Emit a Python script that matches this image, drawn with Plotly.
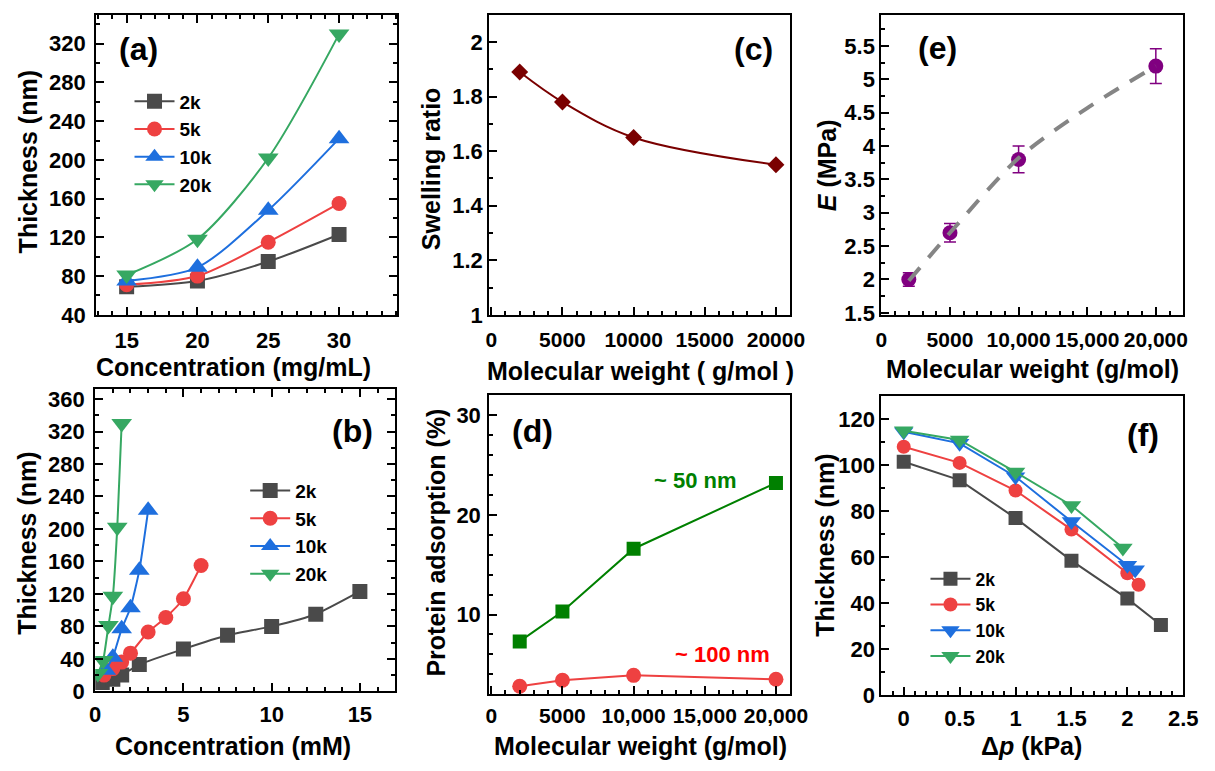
import plotly.graph_objects as go

W, H = 1215, 771

# ---------------- data ----------------
series_names = ["2k", "5k", "10k", "20k"]
series_colors = ["#4A4A4A", "#EE4141", "#1E6FDE", "#36A862"]
series_symbols = ["square", "circle", "triangle-up", "triangle-down"]

# (a) thickness vs concentration (mg/mL)
conc_mgml = [15, 20, 25, 30]
thick_a = {
    "2k": [69, 75, 95, 123],
    "5k": [71, 80, 115, 155],
    "10k": [75, 89, 148, 222],
    "20k": [81, 118, 202, 330],
}

# (b) thickness vs concentration (mM)
conc_mm = {
    "2k": [0.4, 1.0, 1.5, 2.5, 5.0, 7.5, 10.0, 12.5, 15.0],
    "5k": [0.5, 1.0, 1.5, 2.0, 3.0, 4.0, 5.0, 6.0],
    "10k": [0.6, 1.0, 1.5, 2.0, 2.5, 3.0],
    "20k": [0.15, 0.45, 0.75, 1.0, 1.25, 1.5],
}
thick_b = {
    "2k": [11, 15, 20, 33, 52, 69, 80, 95, 123],
    "5k": [20, 28, 36, 47, 73, 91, 114, 155],
    "10k": [26, 42, 77, 103, 149, 223],
    "20k": [22, 38, 81, 117, 202, 330],
}

# (c) swelling ratio vs molecular weight
mw = [2000, 5000, 10000, 20000]
swelling = [1.89, 1.78, 1.65, 1.55]

# (e) modulus vs molecular weight, with fitted trend
modulus = [2.0, 2.7, 3.8, 5.2]
modulus_err = [0.1, 0.14, 0.2, 0.26]
fit_mw = [2000, 5000, 10000, 15000, 20000]
fit_modulus = [1.98, 2.70, 3.82, 4.57, 5.20]

# (d) protein adsorption vs molecular weight
ads_50nm = [7.3, 10.3, 16.6, 23.2]
ads_100nm = [2.8, 3.4, 3.9, 3.5]

# (f) thickness vs pressure difference
dp = {
    "2k": [0, 0.5, 1.0, 1.5, 2.0, 2.3],
    "5k": [0, 0.5, 1.0, 1.5, 2.0, 2.1],
    "10k": [0, 0.5, 1.0, 1.5, 2.0, 2.07],
    "20k": [0, 0.5, 1.0, 1.5, 1.96],
}
thick_f = {
    "2k": [101.5, 93.5, 77, 58.5, 42, 30.5],
    "5k": [108, 101, 89, 72, 53, 48],
    "10k": [114.5, 109.5, 95, 75.5, 56.5, 54.5],
    "20k": [115, 111, 97, 82.5, 64],
}

mw_ticks = [0, 5000, 10000, 15000, 20000]
mw_ticktext_plain = ["0", "5000", "10000", "15000", "20000"]
mw_ticktext_comma = ["0", "5000", "10,000", "15,000", "20,000"]

FONT = "Liberation Sans, Arial, sans-serif"

# ---------------- helpers ----------------
def px_x(p):
    return p / W


def px_y(p):
    return 1 - p / H


def marker_size(symbol, base):
    # triangles render smaller than squares/circles at the same size
    return base + 3 if symbol.startswith("triangle") else base


def axis(dom, rng, dtick, minor, anchor, mirror=True, tickvals=None,
         ticktext=None, standoff=None, is_x=False, fsize=22):
    d = dict(
        domain=dom, range=rng, anchor=anchor,
        showline=True, linecolor="black", linewidth=2, mirror=mirror,
        ticks="inside", ticklen=8, tickwidth=2, tickcolor="black",
        dtick=dtick, tick0=0,
        minor=dict(dtick=minor, tick0=0, ticks="inside", ticklen=4,
                   tickwidth=1.5, tickcolor="black", showgrid=False),
        showgrid=False, zeroline=False,
        tickfont=dict(size=fsize, color="black", weight="bold", family=FONT),
    )
    if is_x:
        d["tickangle"] = 0
    if standoff is not None:
        d["ticklabelstandoff"] = standoff
    if tickvals is not None:
        d["tickmode"] = "array"
        d["tickvals"] = tickvals
        d["ticktext"] = ticktext
    return d


fig = go.Figure()

# (a)
for i, name in enumerate(series_names):
    sym = series_symbols[i]
    fig.add_trace(go.Scatter(
        x=conc_mgml, y=thick_a[name], name=name, mode="lines+markers",
        line=dict(color=series_colors[i], width=2, shape="spline", smoothing=0.8),
        marker=dict(symbol=sym, size=marker_size(sym, 15), color=series_colors[i]),
        xaxis="x", yaxis="y", legend="legend",
    ))

# (c)
fig.add_trace(go.Scatter(
    x=mw, y=swelling, mode="lines+markers", showlegend=False,
    line=dict(color="#7A0000", width=2, shape="spline", smoothing=1.0),
    marker=dict(symbol="diamond", size=13, color="#7A0000"),
    xaxis="x2", yaxis="y2",
))

# (e)
fig.add_trace(go.Scatter(
    x=mw, y=modulus, mode="markers", showlegend=False,
    marker=dict(symbol="circle", size=15, color="#800080"),
    error_y=dict(type="data", array=modulus_err, color="#800080",
                 thickness=1.5, width=6),
    xaxis="x3", yaxis="y3",
))
fig.add_trace(go.Scatter(
    x=fit_mw, y=fit_modulus, mode="lines", showlegend=False,
    line=dict(color="#858585", width=4, dash="17px,13px", shape="spline", smoothing=0.8),
    xaxis="x3", yaxis="y3",
))

# (b)
for i, name in enumerate(series_names):
    sym = series_symbols[i]
    fig.add_trace(go.Scatter(
        x=conc_mm[name], y=thick_b[name], name=name, mode="lines+markers",
        line=dict(color=series_colors[i], width=2, shape="spline", smoothing=0.5),
        marker=dict(symbol=sym, size=marker_size(sym, 15), color=series_colors[i]),
        xaxis="x4", yaxis="y4", legend="legend2",
    ))

# (d)
fig.add_trace(go.Scatter(
    x=mw, y=ads_50nm, mode="lines+markers", showlegend=False,
    line=dict(color="#008000", width=2),
    marker=dict(symbol="square", size=14, color="#008000"),
    xaxis="x5", yaxis="y5",
))
fig.add_trace(go.Scatter(
    x=mw, y=ads_100nm, mode="lines+markers", showlegend=False,
    line=dict(color="#EE4141", width=2),
    marker=dict(symbol="circle", size=15, color="#EE4141"),
    xaxis="x5", yaxis="y5",
))

# (f): both 10k and 20k use downward triangles here
f_symbols = ["square", "circle", "triangle-down", "triangle-down"]
for i, name in enumerate(series_names):
    sym = f_symbols[i]
    fig.add_trace(go.Scatter(
        x=dp[name], y=thick_f[name], name=name, mode="lines+markers",
        line=dict(color=series_colors[i], width=2),
        marker=dict(symbol=sym, size=marker_size(sym, 14), color=series_colors[i]),
        xaxis="x6", yaxis="y6", legend="legend3",
    ))

# ---------------- layout ----------------
top_y = [px_y(319), px_y(13)]
dom_a_x = [px_x(92), px_x(399)]
dom_c_x = [px_x(493), px_x(800)]
dom_e_x = [px_x(893), px_x(1201)]
dom_b_x = [px_x(91), px_x(397)]
dom_b_y = [px_y(703), px_y(395)]
dom_d_y = [px_y(706), px_y(401)]
dom_f_y = [px_y(707), px_y(402)]

XS_TOP = 5  # gap between x axis line and tick labels, upper row
XS_BOT = 2  # same, lower row

fig.update_layout(
    width=W, height=H,
    margin=dict(l=0, r=0, t=0, b=0),
    paper_bgcolor="white", plot_bgcolor="white",
    font=dict(family=FONT, weight="bold", color="black"),
    xaxis=axis(dom_a_x, [12.85, 34.1], 5, 1, "y", mirror="allticks",
               standoff=XS_TOP, is_x=True),
    yaxis=axis(top_y, [40, 350], 40, 20, "x", mirror="allticks", standoff=4),
    xaxis2=axis(dom_c_x, [-140, 21000], 5000, 1000, "y2",
                tickvals=mw_ticks, ticktext=mw_ticktext_plain,
                standoff=XS_TOP, is_x=True, fsize=21),
    yaxis2=axis(top_y, [1, 2.1], 0.2, 0.1, "x2"),
    xaxis3=axis(dom_e_x, [0, 22000], 5000, 1000, "y3",
                tickvals=mw_ticks, ticktext=mw_ticktext_comma,
                standoff=XS_TOP, is_x=True, fsize=21),
    yaxis3=axis(top_y, [1.47, 5.97], 0.5, 0.25, "x3"),
    xaxis4=axis(dom_b_x, [0, 17], 5, 1, "y4", mirror="allticks",
                standoff=XS_BOT, is_x=True),
    yaxis4=axis(dom_b_y, [0, 372], 40, 20, "x4", mirror="allticks", standoff=4),
    xaxis5=axis(dom_c_x, [-140, 21000], 5000, 1000, "y5",
                tickvals=mw_ticks, ticktext=mw_ticktext_comma,
                standoff=XS_BOT, is_x=True, fsize=21),
    yaxis5=axis(dom_d_y, [2, 32], 10, 2, "x5", standoff=2),
    xaxis6=axis(dom_e_x, [-0.2, 2.5], 0.5, 0.1, "y6", standoff=XS_BOT, is_x=True),
    yaxis6=axis(dom_f_y, [0, 130], 20, 10, "x6"),
    legend=dict(x=px_x(126), y=px_y(82), xanchor="left", yanchor="top",
                bgcolor="rgba(0,0,0,0)", font=dict(size=19), itemwidth=40),
    legend2=dict(x=px_x(244), y=px_y(479), xanchor="left", yanchor="top",
                 bgcolor="rgba(0,0,0,0)", font=dict(size=19), itemwidth=40),
    legend3=dict(x=px_x(938), y=px_y(570), xanchor="left", yanchor="top",
                 bgcolor="rgba(0,0,0,0)", font=dict(size=17.5), itemwidth=40),
)

annotations = []


def label(text, x, y, size=32, color="black", angle=0):
    annotations.append(dict(
        text=text, x=px_x(x), y=px_y(y), xref="paper", yref="paper",
        xanchor="center", yanchor="middle", showarrow=False, textangle=angle,
        font=dict(size=size, color=color),
    ))


# panel letters
label("(a)", 135, 48)
label("(c)", 763, 48)
label("(e)", 950, 47)
label("(b)", 353, 438)
label("(d)", 537, 438)
label("(f)", 1160, 442)

# axis titles
TS = 25
label("Concentration (mg/mL)", 232, 372, size=TS)
label("Thickness (nm)", 22, 163, size=TS, angle=-90)
label("Molecular weight ( g/mol )", 647, 376, size=TS)
label("Swelling ratio", 433, 170, size=TS, angle=-90)
label("Molecular weight (g/mol)", 1047, 374, size=TS)
label("<i>E</i> (MPa)", 837, 166, size=TS, angle=-90)
label("Concentration (mM)", 232, 759, size=TS)
label("Thickness (nm)", 22, 552, size=TS, angle=-90)
label("Molecular weight (g/mol)", 647, 759, size=TS)
label("Protein adsorption (%)", 439, 551, size=TS, angle=-90)
label("Δ<i>p</i> (kPa)", 1046, 759, size=TS)
label("Thickness (nm)", 836, 554, size=TS, angle=-90)

# series annotations in (d)
label("~ 50 nm", 703, 488, size=22, color="#008000")
label("~ 100 nm", 731, 665, size=22, color="#FF0000")

fig.update_layout(annotations=annotations)

fig.write_html("out.html")
